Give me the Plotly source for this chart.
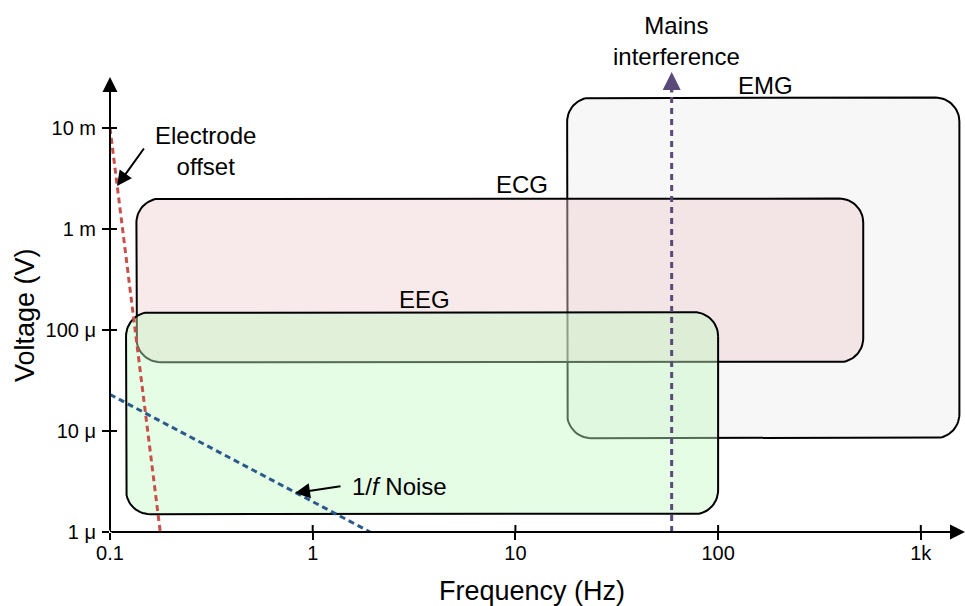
import numpy as np
import plotly.graph_objects as go

# ---------------- data ----------------
band_names = ["EMG", "ECG", "EEG"]
band_f_low = [18, 0.135, 0.12]
band_f_high = [1550, 520, 100]
band_v_low = [8.5e-6, 48e-6, 1.5e-6]
band_v_high = [20e-3, 2e-3, 150e-6]
band_fill = ["rgba(236,236,236,0.43)", "rgba(239,206,206,0.43)", "rgba(195,250,195,0.43)"]

electrode_f = [0.1, 0.177]
electrode_v = [10e-3, 1e-6]
noise_f = [0.1, 1.92]
noise_v = [23e-6, 1e-6]
mains_f = [59, 59]
mains_v = [1e-6, 0.024]

x_tickvals = [0.1, 1, 10, 100, 1000]
x_ticktext = ["0.1", "1", "10", "100", "1k"]
y_tickvals = [1e-6, 1e-5, 1e-4, 1e-3, 1e-2]
y_ticktext = ["1 μ", "10 μ", "100 μ", "1 m", "10 m"]

# ---------------- geometry ----------------
W, H = 965, 606
L, R, T, B = 110, 0, 77, 74
PW, PH = W - L - R, H - T - B
XR = [-1, 3.218]
YR = [-6, -1.495]
XPD = PW / (XR[1] - XR[0])
YPD = PH / (YR[1] - YR[0])
FONT = "Liberation Sans, Arial, Helvetica, sans-serif"


def rounded_rect(f0, f1, v0, v1, rpx=24, n=16):
    lx0, lx1, ly0, ly1 = np.log10(f0), np.log10(f1), np.log10(v0), np.log10(v1)
    rx, ry = rpx / XPD, rpx / YPD
    centers = [(lx1 - rx, ly1 - ry, 0), (lx0 + rx, ly1 - ry, 90),
               (lx0 + rx, ly0 + ry, 180), (lx1 - rx, ly0 + ry, 270)]
    xs, ys = [], []
    for cx, cy, a0 in centers:
        t = np.radians(np.linspace(a0, a0 + 90, n))
        xs.extend(cx + rx * np.cos(t))
        ys.extend(cy + ry * np.sin(t))
    xs.append(xs[0]); ys.append(ys[0])
    return 10 ** np.array(xs), 10 ** np.array(ys)


fig = go.Figure()
for name, f0, f1, v0, v1, col in zip(band_names, band_f_low, band_f_high,
                                     band_v_low, band_v_high, band_fill):
    xs, ys = rounded_rect(f0, f1, v0, v1)
    fig.add_trace(go.Scatter(x=xs, y=ys, mode="lines", fill="toself",
                             fillcolor=col, line=dict(color="black", width=2),
                             name=name, hoverinfo="skip"))

fig.add_trace(go.Scatter(x=electrode_f, y=electrode_v, mode="lines",
                         line=dict(color="#c8504a", width=3, dash="6px,4px"),
                         name="Electrode offset"))
fig.add_trace(go.Scatter(x=noise_f, y=noise_v, mode="lines",
                         line=dict(color="#2a5a8c", width=3, dash="6px,4px"),
                         name="1/f noise"))
fig.add_trace(go.Scatter(x=mains_f, y=mains_v, mode="lines",
                         line=dict(color="#5a4a7a", width=3, dash="6px,5px"),
                         name="Mains"))


def lx(px):
    return XR[0] + (px - L) / XPD


def ly(py):
    return YR[0] + (T + PH - py) / YPD


def py_paper(py):
    return (T + PH - py) / PH


ann = []
# axis arrows
ann.append(dict(x=1, y=0, xref="x domain", yref="y domain", ax=-PW, ay=0,
                text="", showarrow=True, arrowhead=2, arrowsize=1.5,
                arrowwidth=2, arrowcolor="black"))
ann.append(dict(x=0, y=1, xref="x domain", yref="y domain", ax=0, ay=PH,
                text="", showarrow=True, arrowhead=2, arrowsize=1.5,
                arrowwidth=2, arrowcolor="black"))
# band labels
for name, px, py in [("EMG", 765, 85), ("ECG", 522, 184), ("EEG", 424, 299)]:
    ann.append(dict(x=lx(px), y=ly(py), text=name, showarrow=False,
                    xanchor="center", yanchor="middle",
                    font=dict(size=24, color="black", family=FONT)))
# electrode offset
ann.append(dict(x=lx(205), y=ly(151), text="Electrode<br>offset", showarrow=False,
                xanchor="center", yanchor="middle",
                font=dict(size=24, color="black", family=FONT)))
ann.append(dict(x=np.log10(electrode_f[0]) + 7 / XPD, y=ly(186), ax=28, ay=-39,
                text="", showarrow=True, arrowhead=2, arrowsize=1.5,
                arrowwidth=2, arrowcolor="black"))
# 1/f noise
ann.append(dict(x=lx(399), y=ly(486), text="1/<i>f</i> Noise", showarrow=False,
                xanchor="center", yanchor="middle",
                font=dict(size=24, color="black", family=FONT)))
ann.append(dict(x=lx(295), y=ly(493), ax=47, ay=-7,
                text="", showarrow=True, arrowhead=2, arrowsize=1.5,
                arrowwidth=2, arrowcolor="black"))
# mains (above plot area -> paper y)
ann.append(dict(x=np.log10(mains_f[0]) + 5 / XPD, y=py_paper(41), yref="paper",
                text="Mains<br>interference", showarrow=False,
                xanchor="center", yanchor="middle",
                font=dict(size=24, color="black", family=FONT)))
ann.append(dict(x=np.log10(mains_f[0]), y=py_paper(72), yref="paper", ax=0, ay=22,
                text="", showarrow=True, arrowhead=2, arrowsize=1.2,
                arrowwidth=3, arrowcolor="#5a4a7a"))
# axis titles
ann.append(dict(x=(532 - L) / PW, y=py_paper(591), xref="paper", yref="paper",
                text="Frequency (Hz)", showarrow=False,
                xanchor="center", yanchor="middle",
                font=dict(size=27, color="black", family=FONT)))
ann.append(dict(x=(25 - L) / PW, y=py_paper(315), xref="paper", yref="paper",
                text="Voltage (V)", showarrow=False, textangle=-90,
                xanchor="center", yanchor="middle",
                font=dict(size=27, color="black", family=FONT)))

shapes = []
for v in x_tickvals:
    shapes.append(dict(type="line", xref="x", yref="y domain", x0=v, x1=v,
                       y0=0, y1=7 / PH, line=dict(color="black", width=2)))
for v in y_tickvals:
    shapes.append(dict(type="line", xref="x domain", yref="y", x0=0, x1=7 / PW,
                       y0=v, y1=v, line=dict(color="black", width=2)))

fig.update_layout(
    width=W, height=H, margin=dict(l=L, r=R, t=T, b=B, pad=0),
    paper_bgcolor="white", plot_bgcolor="white", showlegend=False,
    font=dict(family=FONT, color="black", size=20),
    annotations=ann, shapes=shapes,
    xaxis=dict(type="log", range=XR, tickvals=x_tickvals, ticktext=x_ticktext,
               ticks="outside", ticklen=7, tickwidth=2, tickcolor="black",
               showgrid=False, zeroline=False, showline=False,
               ticklabelstandoff=-4,
               tickfont=dict(size=20, family=FONT, color="black")),
    yaxis=dict(type="log", range=YR, tickvals=y_tickvals, ticktext=y_ticktext,
               ticks="outside", ticklen=7, tickwidth=2, tickcolor="black",
               showgrid=False, zeroline=False, showline=False,
               ticklabelstandoff=2,
               tickfont=dict(size=20, family=FONT, color="black")),
)

fig.write_html("out.html")
